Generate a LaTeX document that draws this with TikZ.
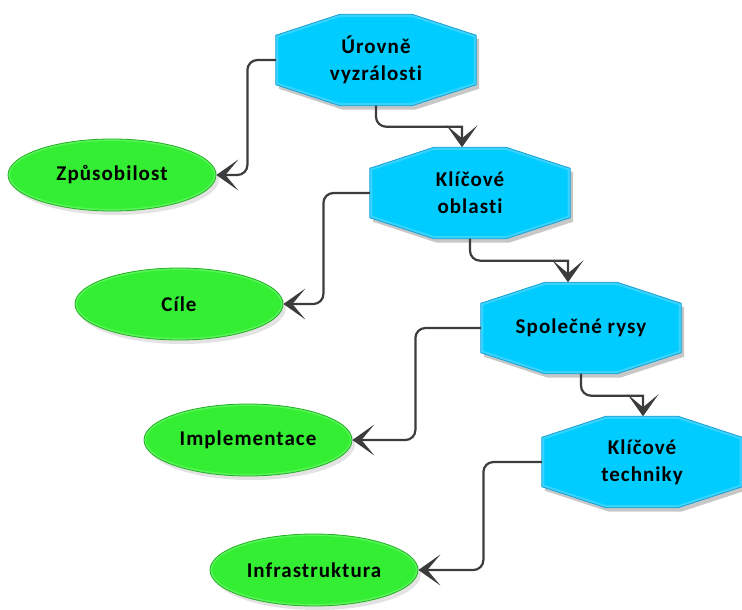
\documentclass[tikz,border=0pt]{standalone}
\usepackage{fontspec}
\setmainfont{Carlito}
\usetikzlibrary{arrows.meta,shadows,backgrounds,shapes.geometric}
\definecolor{cyanfill}{HTML}{00CCFF}
\definecolor{cyanband}{HTML}{38D4FF}
\definecolor{cyanedge}{HTML}{1E9FD2}
\definecolor{greenfill}{HTML}{33EE33}
\definecolor{greenband}{HTML}{5AF55A}
\definecolor{greenedge}{HTML}{26AE26}
\definecolor{connclr}{HTML}{3C3C3C}
\newcommand\octpath[1]{([xshift=64pt]#1.north west) -- ([xshift=-64pt]#1.north east) -- ([yshift=-21pt]#1.north east) -- ([yshift=21pt]#1.south east) -- ([xshift=-64pt]#1.south east) -- ([xshift=64pt]#1.south west) -- ([yshift=21pt]#1.south west) -- ([yshift=-21pt]#1.north west) -- cycle}
\tikzset{
  txt/.style={font=\fontsize{21}{27}\selectfont\bfseries\addfontfeatures{LetterSpace=5,Ligatures=NoCommon}, align=center, text=black},
  octbox/.style={txt, rectangle, minimum width=200pt, minimum height=91pt, inner sep=0pt},
  ellbox/.style={txt, ellipse, minimum width=208pt, minimum height=72pt, inner sep=0pt,
    fill=greenfill, draw=greenedge, line width=0.8pt,
    path picture={\draw[greenband, line width=4pt] (path picture bounding box.center) ellipse [x radius=104pt, y radius=36pt];},
    drop shadow={shadow xshift=3pt, shadow yshift=-4pt, opacity=0.22}},
  conn/.style={draw=connclr, line width=2.2pt, -{Stealth[length=22pt,width=31pt,inset=13pt]}},
}
\begin{document}
\begin{tikzpicture}[x=1pt,y=-1pt]
\useasboundingbox (0,0) rectangle (742,610);
\node[octbox] (u) at (376,60) {Úrovně\\vyzrálosti};
\node[octbox] (k) at (470,193) {Klíčové\\oblasti};
\node[octbox] (s) at (581,328) {Společné rysy};
\node[octbox] (t) at (642,462) {Klíčové\\techniky};
\node[ellbox] (z) at (112,175) {Způsobilost};
\node[ellbox] (c) at (179,304) {Cíle};
\node[ellbox] (i) at (248,440) {Implementace};
\node[ellbox] (f) at (314,570) {Infrastruktura};
\begin{pgfonlayer}{background}
\foreach \n in {u,k,s,t}{
  \begin{scope}[transform canvas={xshift=3pt,yshift=-4pt}]
    \fill[black,opacity=0.22] \octpath{\n};
  \end{scope}
  \fill[cyanfill] \octpath{\n};
  \begin{scope}
    \clip \octpath{\n};
    \draw[cyanband,line width=5pt] \octpath{\n};
  \end{scope}
  \draw[cyanedge,line width=0.8pt] \octpath{\n};
}
\end{pgfonlayer}
\draw[conn] (u.west) [rounded corners=10pt] -| ([xshift=31pt]z.east) -- (z.east);
\draw[conn] (k.west) [rounded corners=10pt] -| ([xshift=40pt]c.east) -- (c.east);
\draw[conn] (s.west) [rounded corners=10pt] -| ([xshift=63pt]i.east) -- (i.east);
\draw[conn] (t.west) [rounded corners=10pt] -| ([xshift=65pt]f.east) -- (f.east);
\draw[conn] (u.south) [rounded corners=10pt] -- ++(0,21) [sharp corners] -| ([xshift=-8pt]k.north);
\draw[conn] (k.south) [rounded corners=10pt] -- ++(0,22) [sharp corners] -| ([xshift=-13pt]s.north);
\draw[conn] (s.south) [rounded corners=10pt] -- ++(0,22) [sharp corners] -| ([xshift=1pt]t.north);
\end{tikzpicture}
\end{document}
